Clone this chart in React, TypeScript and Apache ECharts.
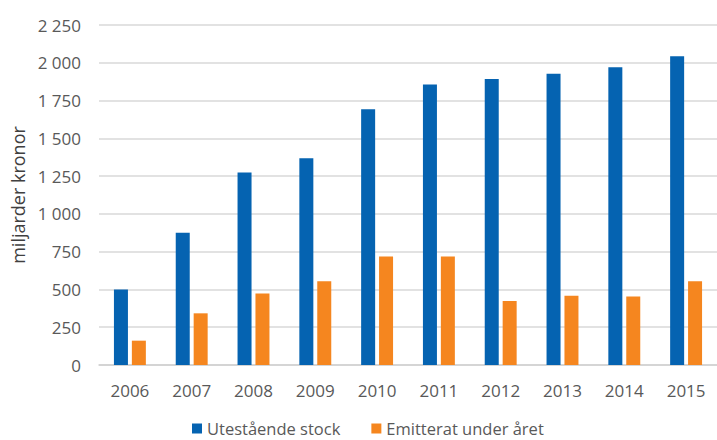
import React, { useEffect, useRef } from "react";
import * as echarts from "echarts";

const years = ["2006", "2007", "2008", "2009", "2010", "2011", "2012", "2013", "2014", "2015"];
const outstandingStock = [500, 875, 1274, 1369, 1692, 1857, 1893, 1928, 1970, 2043];
const issuedDuringYear = [161, 342, 473, 554, 718, 718, 424, 459, 453, 554];
const seriesNames = ["Utestående stock", "Emitterat under året"];
const axisTitle = "miljarder kronor";

const FONT = "'Open Sans', 'Noto Sans', sans-serif";
const TEXT_GREY = "#595959";

const formatThousands = (v: number) => String(v).replace(/\B(?=(\d{3})+(?!\d))/g, " ");

export default function App() {
  const ref = useRef<HTMLDivElement>(null);

  useEffect(() => {
    if (!ref.current) return;
    const chart = echarts.init(ref.current, undefined, { renderer: "svg" });
    chart.setOption({
      animation: false,
      backgroundColor: "#ffffff",
      textStyle: { fontFamily: FONT },
      grid: { left: 99, top: 25, width: 624, height: 340 },
      legend: {
        data: seriesNames,
        left: 192,
        top: 420,
        padding: 0,
        itemWidth: 10,
        itemHeight: 10,
        itemGap: 31,
        icon: "rect",
        textStyle: { fontFamily: FONT, fontSize: 16.5, color: TEXT_GREY },
      },
      xAxis: {
        type: "category",
        data: years,
        axisLine: { lineStyle: { color: "#d0d0d0", width: 1.5 } },
        axisTick: { show: false },
        axisLabel: { fontFamily: FONT, fontSize: 17, color: TEXT_GREY, margin: 17 },
      },
      yAxis: {
        type: "value",
        min: 0,
        max: 2250,
        interval: 250,
        name: axisTitle,
        nameLocation: "middle",
        nameGap: 70,
        nameTextStyle: { fontFamily: FONT, fontSize: 18, color: "#404040" },
        axisLine: { show: false },
        axisTick: { show: false },
        splitLine: { lineStyle: { color: "#d9d9d9", width: 1.5 } },
        axisLabel: {
          fontFamily: FONT,
          fontSize: 17,
          color: TEXT_GREY,
          margin: 18,
          formatter: (v: number) => formatThousands(v),
        },
      },
      series: [
        {
          name: seriesNames[0],
          type: "bar",
          data: outstandingStock,
          barWidth: 14,
          barGap: "28%",
          itemStyle: { color: "#0563b1" },
        },
        {
          name: seriesNames[1],
          type: "bar",
          data: issuedDuringYear,
          barWidth: 14,
          itemStyle: { color: "#f5861f" },
        },
      ],
    });
    return () => chart.dispose();
  }, []);

  return (
    <div
      ref={ref}
      style={{ position: "fixed", left: 0, top: 0, width: 717, height: 440, background: "#fff" }}
    />
  );
}
